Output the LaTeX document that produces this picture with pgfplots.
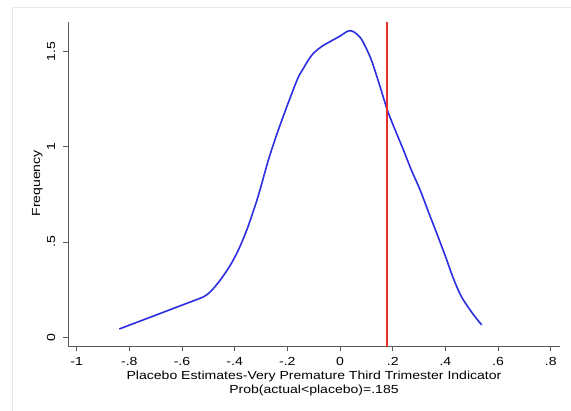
\documentclass[border=0pt]{standalone}
\usepackage{fontspec}
\setmainfont{Liberation Sans}[FakeStretch=1.2]
\newfontfamily\plainsans{Liberation Sans}
\usepackage{graphicx}
\usepackage{pgfplots}
\pgfplotsset{compat=1.18}
\definecolor{stblue}{RGB}{45,45,225}
\definecolor{stred}{RGB}{232,45,45}
\definecolor{axgray}{RGB}{90,90,90}
\begin{document}
\begin{tikzpicture}[x=1pt,y=1pt]
\useasboundingbox (0,0) rectangle (571,411);
\fill[white] (0,0) rectangle (571,411);
\draw[black!9, line width=0.8pt] (12,0) -- (12,404) -- (571,404);
\begin{axis}[
  at={(68pt,64.3pt)}, anchor=south west,
  scale only axis, width=492pt, height=324.7pt,
  xmin=-1.0327, xmax=0.835, ymin=-0.049, ymax=1.654,
  axis x line*=bottom, axis y line*=left,
  axis line style={-, axgray, line width=0.8pt},
  tick style={axgray, line width=0.8pt},
  tick align=outside, major tick length=4.5pt,
  xtick={-1,-0.8,-0.6,-0.4,-0.2,0,0.2,0.4,0.6,0.8},
  xticklabels={-1,-.8,-.6,-.4,-.2,0,.2,.4,.6,.8},
  ytick={0,0.5,1,1.5},
  yticklabels={},
  /pgf/number format/assume math mode=true,
  tick label style={font=\fontsize{11.7}{13.3}\selectfont},
  xticklabel style={anchor=north, inner sep=0pt, yshift=-5.6pt},
  xlabel={Placebo Estimates-Very Premature Third Trimester Indicator\\Prob(actual<placebo)=.185},
  xlabel style={at={(axis description cs:0.5,0)}, anchor=north, inner sep=0pt, yshift=-24.4pt, align=center, font=\fontsize{11.7}{13.3}\selectfont},
  ylabel={\scalebox{1.2}[1]{Frequency}},
  ylabel style={at={(axis description cs:-0.0569,0.503)}, anchor=base, inner sep=0pt, font=\plainsans\fontsize{11.7}{13.3}\selectfont},
  clip=false,
]
\addplot[color=stblue, line width=1.6pt, smooth] coordinates {
(-0.838,0.044) (-0.75,0.090) (-0.67,0.132) (-0.60,0.169) (-0.55,0.195)
(-0.515,0.215) (-0.49,0.242) (-0.455,0.300) (-0.418,0.375) (-0.386,0.458)
(-0.354,0.563) (-0.32,0.70) (-0.304,0.773) (-0.272,0.93) (-0.24,1.065)
(-0.21,1.18) (-0.19,1.254) (-0.16,1.36) (-0.139,1.411) (-0.12,1.455)
(-0.101,1.490) (-0.07,1.525) (-0.038,1.551) (0.00,1.580) (0.025,1.603)
(0.04,1.608) (0.055,1.600) (0.075,1.575) (0.088,1.548) (0.114,1.472)
(0.13,1.410) (0.152,1.315) (0.18,1.19) (0.21,1.085) (0.24,0.985)
(0.27,0.88) (0.304,0.773) (0.335,0.66) (0.367,0.546) (0.40,0.425)
(0.43,0.31) (0.46,0.215) (0.494,0.143) (0.52,0.095) (0.538,0.065)
};
\addplot[draw=stred, line width=2pt, mark=none] coordinates {(0.18,-0.049) (0.18,1.654)};
\foreach \v/\t in {0/0,0.5/.5,1/1,1.5/1.5}{
  \edef\temp{\noexpand\node[rotate=90, anchor=base, inner sep=0pt, font=\noexpand\plainsans\noexpand\fontsize{11.7}{13.3}\noexpand\selectfont] at ([xshift=-13pt]axis cs:-1.0327,\v) {\noexpand\scalebox{1.2}[1]{\t}};}
  \temp
}
\end{axis}
\end{tikzpicture}
\end{document}
